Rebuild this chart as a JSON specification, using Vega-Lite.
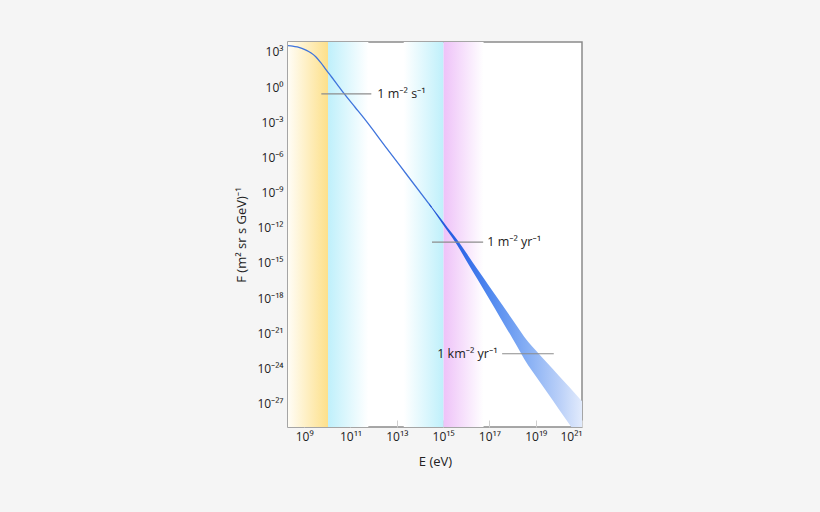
{
  "$schema": "https://vega.github.io/schema/vega-lite/v6.json",
  "width": 294,
  "height": 385,
  "autosize": "none",
  "padding": {"left": 288, "top": 42, "right": 238, "bottom": 85},
  "background": "#f5f5f5",
  "view": {"fill": "white", "stroke": "#8a8a8a", "strokeWidth": 1.5},
  "config": {
    "font": "Open Sans, Noto Sans",
    "axis": {
      "labelFont": "Open Sans, Noto Sans", "titleFont": "Open Sans, Noto Sans",
      "labelFontSize": 12, "titleFontSize": 13,
      "labelColor": "#222", "titleColor": "#222",
      "titleFontWeight": "normal",
      "domain": false, "grid": false,
      "tickColor": "#cfcfcf", "tickSize": -7, "tickWidth": 1
    }
  },
  "datasets": {
    "bands": [
      {"band": "yellow", "E": 2e8, "E2": 1.07e10},
      {"band": "cyanL", "E": 1.07e10, "E2": 5.9e11},
      {"band": "cyanR", "E": 2.0e13, "E2": 1.05e15},
      {"band": "magenta", "E": 1.05e15, "E2": 5.6e16}
    ],
    "flux": [
      {"E": 2.0e8, "F": 3467},
      {"E": 3.16e8, "F": 3162},
      {"E": 5.01e8, "F": 2630},
      {"E": 7.94e8, "F": 1995},
      {"E": 1.26e9, "F": 1349},
      {"E": 2.0e9, "F": 794},
      {"E": 3.16e9, "F": 380},
      {"E": 5.01e9, "F": 132},
      {"E": 7.94e9, "F": 39.8},
      {"E": 1.26e10, "F": 12.0},
      {"E": 2.51e10, "F": 2.0},
      {"E": 5.01e10, "F": 0.316},
      {"E": 1.58e11, "F": 0.0191},
      {"E": 4.37e11, "F": 1.58e-3},
      {"E": 3.16e12, "F": 8.9e-6},
      {"E": 3.16e13, "F": 2.24e-8},
      {"E": 3.16e14, "F": 5.6e-11}
    ],
    "band": [
      {"E": 2.51e14, "Fup": 1.17e-10, "Flow": 9.33e-11},
      {"E": 6.31e14, "Fup": 1.10e-11, "Flow": 6.92e-12},
      {"E": 1.58e15, "Fup": 1.02e-12, "Flow": 4.90e-13},
      {"E": 3.98e15, "Fup": 1.0e-13, "Flow": 3.47e-14},
      {"E": 1e16, "Fup": 7.24e-15, "Flow": 1.62e-15},
      {"E": 3.16e16, "Fup": 2.57e-16, "Flow": 3.63e-17},
      {"E": 1e17, "Fup": 9.77e-18, "Flow": 7.76e-19},
      {"E": 3.16e17, "Fup": 3.72e-19, "Flow": 1.66e-20},
      {"E": 1e18, "Fup": 1.41e-20, "Flow": 3.55e-22},
      {"E": 4.79e18, "Fup": 1.78e-22, "Flow": 1.78e-24},
      {"E": 1e19, "Fup": 3.55e-23, "Flow": 2.24e-25},
      {"E": 3.16e19, "Fup": 2.82e-24, "Flow": 8.91e-27},
      {"E": 1e20, "Fup": 2.34e-25, "Flow": 3.31e-28},
      {"E": 3.16e20, "Fup": 2.0e-26, "Flow": 1.26e-29},
      {"E": 1e21, "Fup": 1.58e-27, "Flow": 5.0e-31}
    ],
    "notes": [
      {"label": "1 m⁻² s⁻¹", "E": 5.5e9, "E2": 7.94e11, "tE": 1.45e12, "F": 0.263},
      {"label": "1 m⁻² yr⁻¹", "E": 3.31e14, "E2": 5.37e16, "tE": 8.13e16, "F": 5.89e-14},
      {"label": "1 km⁻² yr⁻¹", "E": 3.55e17, "E2": 6.03e19, "tE": 2.24e17, "F": 1.78e-23}
    ]
  },
  "layer": [
    {
      "data": {"name": "bands"},
      "transform": [{"filter": "datum.band == 'yellow'"}],
      "mark": {"type": "rect", "strokeWidth": 0, "fill": {"gradient": "linear", "x1": 0, "x2": 1, "y1": 0, "y2": 0, "stops": [{"offset": 0, "color": "#fffdf6"}, {"offset": 1, "color": "#fde08a"}]}},
      "encoding": {
        "x": {"field": "E", "type": "quantitative", "scale": {"type": "log", "domain": [2e8, 1e21], "nice": false},
          "axis": {"title": "E (eV)", "values": [1e9, 1e11, 1e13, 1e15, 1e17, 1e19, 1e21], "labelPadding": 11, "titlePadding": 13,
            "labelExpr": "{'9':'10⁹','11':'10¹¹','13':'10¹³','15':'10¹⁵','17':'10¹⁷','19':'10¹⁹','21':'10²¹'}['' + round(log(datum.value) / LN10)]"}},
        "x2": {"field": "E2"}
      }
    },
    {
      "data": {"name": "bands"},
      "transform": [{"filter": "datum.band == 'cyanL'"}],
      "mark": {"type": "rect", "strokeWidth": 0, "fill": {"gradient": "linear", "x1": 0, "x2": 1, "y1": 0, "y2": 0, "stops": [{"offset": 0, "color": "#bff0fb"}, {"offset": 1, "color": "#ffffff"}]}},
      "encoding": {
        "x": {"field": "E", "type": "quantitative", "scale": {"type": "log", "domain": [2e8, 1e21], "nice": false}},
        "x2": {"field": "E2"}
      }
    },
    {
      "data": {"name": "bands"},
      "transform": [{"filter": "datum.band == 'cyanR'"}],
      "mark": {"type": "rect", "strokeWidth": 0, "fill": {"gradient": "linear", "x1": 0, "x2": 1, "y1": 0, "y2": 0, "stops": [{"offset": 0, "color": "#ffffff"}, {"offset": 1, "color": "#bff0fb"}]}},
      "encoding": {
        "x": {"field": "E", "type": "quantitative", "scale": {"type": "log", "domain": [2e8, 1e21], "nice": false}},
        "x2": {"field": "E2"}
      }
    },
    {
      "data": {"name": "bands"},
      "transform": [{"filter": "datum.band == 'magenta'"}],
      "mark": {"type": "rect", "strokeWidth": 0, "fill": {"gradient": "linear", "x1": 0, "x2": 1, "y1": 0, "y2": 0, "stops": [{"offset": 0, "color": "#eec2f8"}, {"offset": 1, "color": "#ffffff"}]}},
      "encoding": {
        "x": {"field": "E", "type": "quantitative", "scale": {"type": "log", "domain": [2e8, 1e21], "nice": false}},
        "x2": {"field": "E2"}
      }
    },
    {
      "data": {"name": "flux"},
      "mark": {"type": "line", "color": "#3f74dc", "strokeWidth": 1.3, "clip": true, "interpolate": "monotone"},
      "encoding": {
        "x": {"field": "E", "type": "quantitative", "scale": {"type": "log", "domain": [2e8, 1e21], "nice": false}},
        "y": {"field": "F", "type": "quantitative", "scale": {"type": "log", "domain": [1e-29, 7e3], "nice": false},
          "axis": {"title": "F (m² sr s GeV)⁻¹", "values": [1e3, 1, 1e-3, 1e-6, 1e-9, 1e-12, 1e-15, 1e-18, 1e-21, 1e-24, 1e-27], "labelPadding": 12, "titlePadding": 8,
            "labelExpr": "{'3':'10³','0':'10⁰','-3':'10⁻³','-6':'10⁻⁶','-9':'10⁻⁹','-12':'10⁻¹²','-15':'10⁻¹⁵','-18':'10⁻¹⁸','-21':'10⁻²¹','-24':'10⁻²⁴','-27':'10⁻²⁷'}['' + round(log(datum.value) / LN10)]"}}
      }
    },
    {
      "data": {"name": "band"},
      "mark": {"type": "area", "clip": true, "interpolate": "monotone", "fill": {"gradient": "linear", "x1": 0, "x2": 1, "y1": 0, "y2": 0, "stops": [{"offset": 0, "color": "#2152d4"}, {"offset": 0.18, "color": "#2a62e6"}, {"offset": 0.4, "color": "#5189ef"}, {"offset": 0.65, "color": "#88b0f4"}, {"offset": 0.85, "color": "#b9cff8"}, {"offset": 1, "color": "#e2ebfc"}]}},
      "encoding": {
        "x": {"field": "E", "type": "quantitative", "scale": {"type": "log", "domain": [2e8, 1e21], "nice": false}},
        "y": {"field": "Fup", "type": "quantitative", "scale": {"type": "log", "domain": [1e-29, 7e3], "nice": false}},
        "y2": {"field": "Flow"}
      }
    },
    {
      "data": {"name": "notes"},
      "mark": {"type": "rule", "color": "#8c8c8c", "strokeWidth": 1.2},
      "encoding": {
        "x": {"field": "E", "type": "quantitative", "scale": {"type": "log", "domain": [2e8, 1e21], "nice": false}},
        "x2": {"field": "E2"},
        "y": {"field": "F", "type": "quantitative", "scale": {"type": "log", "domain": [1e-29, 7e3], "nice": false}}
      }
    },
    {
      "data": {"name": "notes"},
      "transform": [{"filter": "datum.label != '1 km⁻² yr⁻¹'"}],
      "mark": {"type": "text", "align": "left", "baseline": "middle", "fontSize": 12.5, "color": "#222", "font": "Open Sans, Noto Sans"},
      "encoding": {
        "x": {"field": "tE", "type": "quantitative", "scale": {"type": "log", "domain": [2e8, 1e21], "nice": false}},
        "y": {"field": "F", "type": "quantitative", "scale": {"type": "log", "domain": [1e-29, 7e3], "nice": false}},
        "text": {"field": "label"}
      }
    },
    {
      "data": {"name": "notes"},
      "transform": [{"filter": "datum.label == '1 km⁻² yr⁻¹'"}],
      "mark": {"type": "text", "align": "right", "baseline": "middle", "fontSize": 12.5, "color": "#222", "font": "Open Sans, Noto Sans"},
      "encoding": {
        "x": {"field": "tE", "type": "quantitative", "scale": {"type": "log", "domain": [2e8, 1e21], "nice": false}},
        "y": {"field": "F", "type": "quantitative", "scale": {"type": "log", "domain": [1e-29, 7e3], "nice": false}},
        "text": {"field": "label"}
      }
    }
  ]
}
